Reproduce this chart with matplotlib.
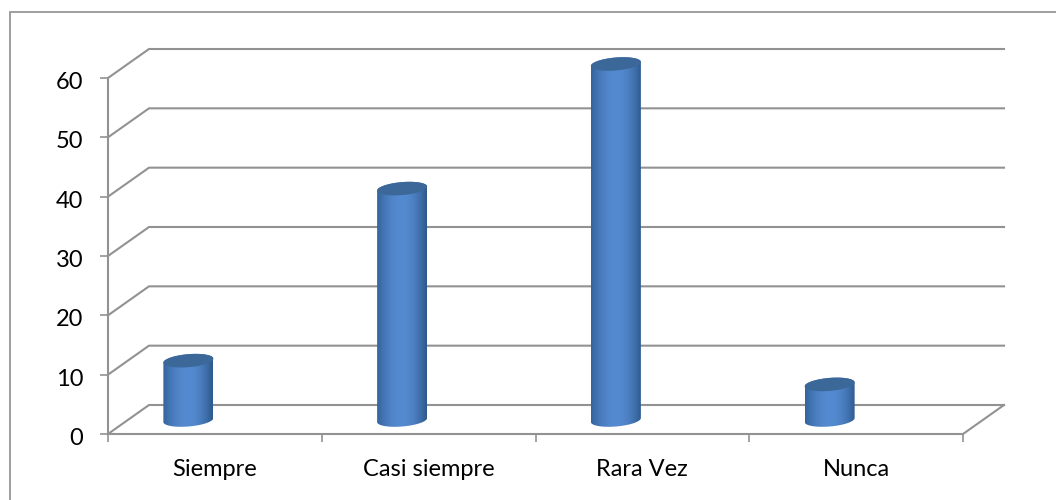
import numpy as np
import matplotlib
matplotlib.use('Agg')
import matplotlib.pyplot as plt
from matplotlib.lines import Line2D
from matplotlib.patches import Polygon
from matplotlib.transforms import ScaledTranslation

categorias = ['Siempre', 'Casi siempre', 'Rara Vez', 'Nunca']
valores = [10, 39, 60, 6]
y_ticks = [0, 10, 20, 30, 40, 50, 60]

plt.rcParams['font.family'] = ['Lato', 'DejaVu Sans']

fig = plt.figure(figsize=(10.56, 5), dpi=100)
# only the top and left edges of the chart frame are in the picture
fig.add_artist(Line2D([9.5 / 1056, 9.5 / 1056, 1], [0, 1 - 12 / 500, 1 - 12 / 500],
                      color='#969696', lw=1.3, solid_joinstyle='miter'))

# front plane of the 3d box, in pixels of the figure
ax = fig.add_axes([108 / 1056, 1 - 434 / 500, 855 / 1056, 356 / 500])
ax.set_xlim(0, 4)
ax.set_ylim(0, 60)
ax.patch.set_alpha(0)

px_x = 4 / 855
px_y = 60 / 356
dx = 41 * px_x
dy = 29 * px_y
gris = '#929292'

for s in ['top', 'right']:
    ax.spines[s].set_visible(False)
for s in ['left', 'bottom']:
    ax.spines[s].set_color(gris)
    ax.spines[s].set_linewidth(1.5)

ax.set_yticks(y_ticks)
ax.set_xticks(range(5))
ax.set_xticklabels([])
ax.tick_params(axis='both', color=gris, width=1.2, length=5.8)
ax.tick_params(axis='y', labelsize=17, pad=12, labelcolor='black')
# numbers sit a little below their ticks
for lab in ax.get_yticklabels():
    lab.set_transform(lab.get_transform() + ScaledTranslation(0, -2.5 / 100, fig.dpi_scale_trans))

for i, c in enumerate(categorias):
    ax.text(i + 0.5, -35 * px_y, c, ha='center', va='center', fontsize=17)

# walls and floor
for v in y_ticks:
    ax.plot([0, dx, 4 + dx], [v, v + dy, v + dy], color=gris, lw=1.5,
            clip_on=False, zorder=1, solid_joinstyle='miter')
ax.plot([4, 4 + dx], [0, dy], color=gris, lw=1.5, clip_on=False, zorder=1)

# cylinders
grad = np.linspace(-1, 1, 128)
c_centro = np.array([0x54, 0x8a, 0xd0]) / 255
c_izq = np.array([0x35, 0x63, 0x9c]) / 255
c_der = np.array([0x2c, 0x58, 0x8a]) / 255
img = np.zeros((2, 128, 3))
for k in range(3):
    borde = np.where(grad < 0, c_izq[k], c_der[k])
    img[:, :, k] = c_centro[k] + (borde - c_centro[k]) * np.abs(grad) ** 2

a = 25 * px_x
b = 6.5 * px_y
tilt = 2 * px_y
base = 14 * px_y
t = np.linspace(0, 2 * np.pi, 120)

for i, v in enumerate(valores):
    cx = i + 0.5 - 26.5 * px_x
    top = base + v
    ex = a * np.cos(t)
    ey = b * np.sin(t) + tilt * np.cos(t)
    abajo = t <= np.pi
    # body outline: lower half of the base ellipse + the top ellipse's span
    xs_base = cx + a * np.cos(t[abajo] + np.pi)
    ys_base = base + b * np.sin(t[abajo] + np.pi) + tilt * np.cos(t[abajo] + np.pi)
    xs_top = cx + a * np.cos(t[abajo])
    ys_top = top + b * np.sin(t[abajo]) + tilt * np.cos(t[abajo])
    cuerpo = Polygon(np.column_stack([np.r_[xs_base, xs_top], np.r_[ys_base, ys_top]]),
                     closed=True, fc='none', ec='none', transform=ax.transData)
    ax.add_patch(cuerpo)
    im = ax.imshow(img, extent=[cx - a, cx + a, base - 2 * b, top + 2 * b], aspect='auto',
                   zorder=3, interpolation='bilinear')
    im.set_clip_box(fig.bbox)
    im.set_clip_path(cuerpo)
    ax.add_patch(Polygon(np.column_stack([cx + ex, top + ey]), closed=True,
                         fc='#3c6899', ec='none', zorder=4, clip_on=False))

ax.set_xlim(0, 4)
ax.set_ylim(0, 60)

fig.savefig('out.png', dpi=100)
